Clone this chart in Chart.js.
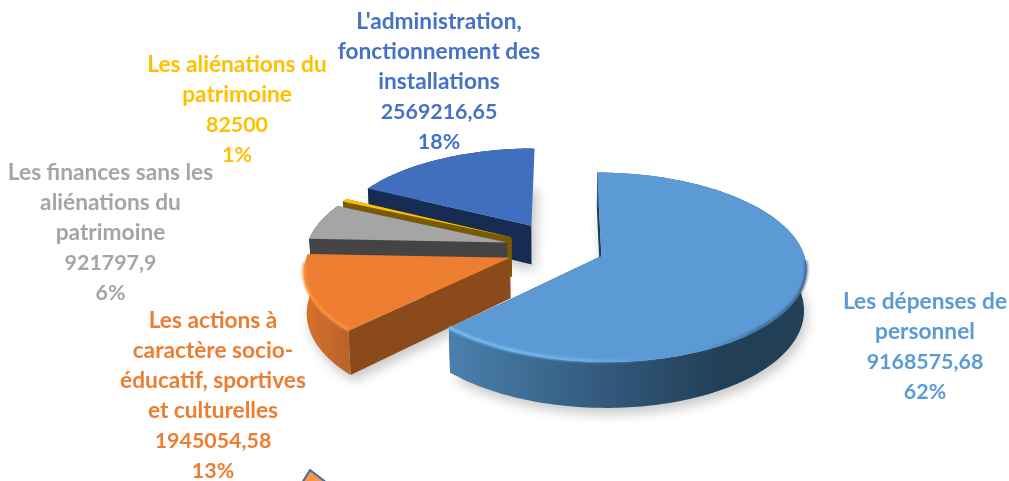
<!DOCTYPE html>
<html lang="fr">
<head>
<meta charset="utf-8">
<title>Répartition des dépenses</title>
<style>html,body{margin:0;padding:0;background:#fff}canvas{display:block}</style>
<script src="https://cdn.jsdelivr.net/npm/chart.js@4"></script>
</head>
<body>
<canvas id="c" width="1009" height="481"></canvas>
<script>
const categories = [
  "Les dépenses de personnel",
  "Les actions à caractère socio-éducatif, sportives et culturelles",
  "Les finances sans les aliénations du patrimoine",
  "Les aliénations du patrimoine",
  "L'administration, fonctionnement des installations"
];
const seriesValues = [9168575.68, 1945054.58, 921797.9, 82500, 2569216.65];
const valueTexts = ["9168575,68", "1945054,58", "921797,9", "82500", "2569216,65"];
const percentTexts = ["62%", "13%", "6%", "1%", "18%"];
const topColors = ["#5b9ad5", "#ed7d31", "#a5a5a5", "#ffc000", "#416fbf"];
const labelColors = ["#5b9bd5", "#ed7d31", "#a5a5a5", "#ffc000", "#4472c4"];
const cutColors = ["#1f3b56", "#8a4a1c", "#444444", "#7a5a00", "#172c52"];
const sliceExplode = [0.21, 0.275, 0.283, 0.284, 0.30];
const hideEndFace = [false, false, false, false, true];
const labelLines = [
  ["Les dépenses de", "personnel"],
  ["Les actions à", "caractère socio-", "éducatif, sportives", "et culturelles"],
  ["Les finances sans les", "aliénations du", "patrimoine"],
  ["Les aliénations du", "patrimoine"],
  ["L'administration,", "fonctionnement des", "installations"]
];
const labelCenterX = [925, 213, 110.5, 237, 439];
const labelFirstY = [302, 321, 173, 65, 22];
const rimGradients = [
  [[450, "#4a80ad"], [600, "#335a7d"], [720, "#223f58"], [810, "#223f58"]],
  [[302, "#d9732c"], [350, "#b8622a"]],
  [[300, "#444444"], [350, "#444444"]],
  [[340, "#7a5a00"], [360, "#7a5a00"]],
  [[370, "#172c52"], [530, "#172c52"]]
];
const bevelGradients = [
  [[448, "rgba(125,195,250,.9)"], [590, "rgba(115,185,240,.7)"], [680, "rgba(91,154,213,0)"], [760, "rgba(40,75,110,.55)"], [808, "rgba(40,75,110,.6)"]],
  [[300, "rgba(255,145,60,.95)"], [345, "rgba(255,145,60,.9)"]],
  null, null, null
];

const VIEW = {cx: 562, cy: 248.5, A: 91.6, B: 201, k: 0.119, depth: 40, shrink: 0.99};
const project = (u, v, low) => {
  const w = 1 - VIEW.k * v;
  let x = VIEW.cx + VIEW.B * u / w;
  let y = VIEW.cy + VIEW.A * v / w;
  if (low) {
    x = VIEW.cx + (x - VIEW.cx) * VIEW.shrink;
    y += VIEW.depth / w;
  }
  return [x, y];
};
const path = (ctx, pts) => {
  ctx.beginPath();
  pts.forEach((p, i) => i ? ctx.lineTo(p[0], p[1]) : ctx.moveTo(p[0], p[1]));
  ctx.closePath();
};
const hGrad = (ctx, stops) => {
  const x0 = stops[0][0], x1 = stops[stops.length - 1][0];
  const g = ctx.createLinearGradient(x0, 0, x1, 0);
  stops.forEach(s => g.addColorStop((s[0] - x0) / (x1 - x0), s[1]));
  return g;
};

const extrudedPie = {
  id: "extrudedPie",
  beforeDatasetDraw(chart) {
    const ctx = chart.ctx;
    const arcs = chart.getDatasetMeta(0).data;
    const order = [4, 3, 2, 1, 0];
    order.forEach(i => {
      const arc = arcs[i];
      const a0 = arc.startAngle, a1 = arc.endAngle;
      const mid = (a0 + a1) / 2;
      const ou = Math.cos(mid) * sliceExplode[i], ov = Math.sin(mid) * sliceExplode[i];
      const n = Math.max(3, Math.ceil((a1 - a0) / 0.02));
      const rim = (low) => {
        const pts = [];
        for (let j = 0; j <= n; j++) {
          const a = a0 + (a1 - a0) * j / n;
          pts.push(project(ou + Math.cos(a), ov + Math.sin(a), low));
        }
        return pts;
      };
      const top = rim(false), bot = rim(true);
      const apexT = project(ou, ov, false), apexB = project(ou, ov, true);

      // soft shadow only: the caster sits off canvas
      ctx.save();
      ctx.shadowColor = "rgba(0,0,0,.22)";
      ctx.shadowBlur = 12;
      ctx.shadowOffsetX = 3 + 3000;
      ctx.shadowOffsetY = 6;
      ctx.fillStyle = "#000";
      path(ctx, bot.concat([apexB]).map(p => [p[0] - 3000, p[1]]));
      ctx.fill();
      ctx.restore();

      ctx.save();
      if (hideEndFace[i]) {
        ctx.beginPath();
        ctx.rect(0, 0, apexB[0], 481);
        ctx.clip();
      }
      // cut faces
      ctx.fillStyle = cutColors[i];
      path(ctx, [top[0], bot[0], apexB, apexT]);
      ctx.fill();
      if (!hideEndFace[i]) {
        path(ctx, [top[n], bot[n], apexB, apexT]);
        ctx.fill();
      }
      // outer wall
      ctx.fillStyle = hGrad(ctx, rimGradients[i]);
      path(ctx, top.concat(bot.slice().reverse()));
      ctx.fill();
      ctx.restore();

      // top face
      ctx.fillStyle = arc.options.backgroundColor;
      path(ctx, top.concat([apexT]));
      ctx.fill();

      // bevel along the front of the rim only
      if (bevelGradients[i]) {
        ctx.save();
        ctx.filter = "blur(1.2px)";
        ctx.strokeStyle = hGrad(ctx, bevelGradients[i]);
        ctx.lineWidth = 3.5;
        ctx.beginPath();
        let started = false;
        for (let j = 0; j <= n; j++) {
          const a = a0 + (a1 - a0) * j / n;
          if (Math.sin(a) < 0.05) continue;
          const p = top[j];
          if (started) ctx.lineTo(p[0], p[1] - 1); else ctx.moveTo(p[0], p[1] - 1);
          started = true;
        }
        ctx.stroke();
        ctx.restore();
      }
    });
    return false;
  },
  afterDraw(chart) {
    const ctx = chart.ctx;
    ctx.save();
    ctx.textAlign = "center";
    ctx.textBaseline = "middle";
    const wordFont = "bold 22.7px Lato, 'Open Sans', sans-serif";
    const numberFont = "bold 21.4px Lato, 'Open Sans', sans-serif";
    categories.forEach((c, i) => {
      ctx.fillStyle = labelColors[i];
      const lines = labelLines[i];
      ctx.font = wordFont;
      lines.forEach((l, j) => ctx.fillText(l, labelCenterX[i], labelFirstY[i] + j * 30));
      ctx.font = numberFont;
      ctx.fillText(valueTexts[i], labelCenterX[i], labelFirstY[i] + lines.length * 30);
      ctx.fillText(percentTexts[i], labelCenterX[i], labelFirstY[i] + (lines.length + 1) * 30);
    });
    // stray callout corner at the foot of the picture
    ctx.fillStyle = "#f79646";
    ctx.strokeStyle = "#3f6fa6";
    ctx.lineWidth = 2;
    ctx.beginPath();
    ctx.moveTo(302, 483);
    ctx.lineTo(310, 470);
    ctx.lineTo(327, 483);
    ctx.closePath();
    ctx.fill();
    ctx.stroke();
    ctx.restore();
  }
};

new Chart(document.getElementById("c"), {
  type: "pie",
  data: {
    labels: categories,
    datasets: [{data: seriesValues, backgroundColor: topColors, borderWidth: 0}]
  },
  options: {
    responsive: false,
    animation: false,
    plugins: {legend: {display: false}, tooltip: {enabled: false}}
  },
  plugins: [extrudedPie]
});
</script>
</body>
</html>
